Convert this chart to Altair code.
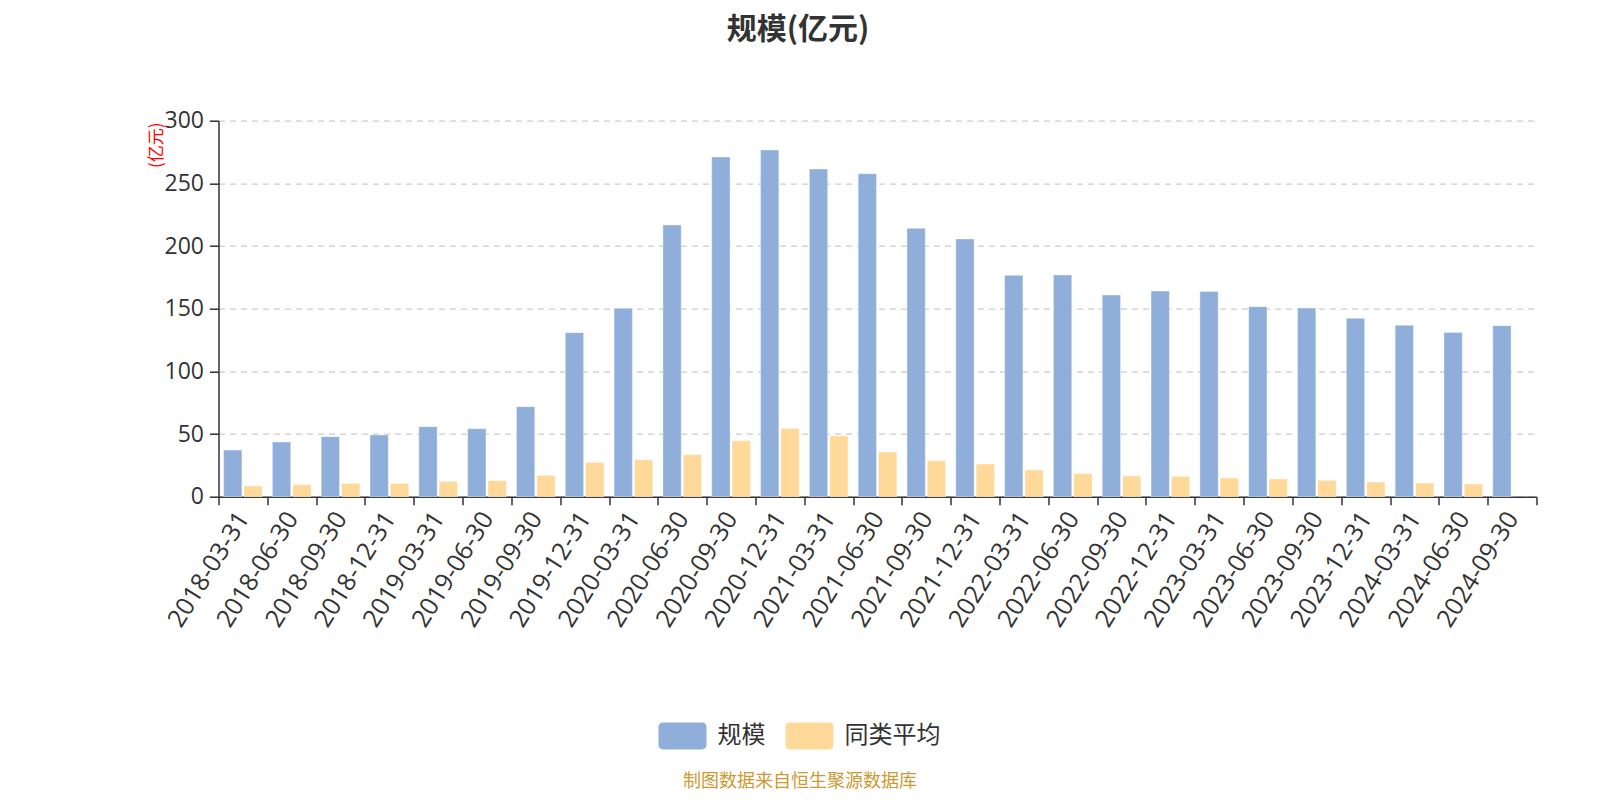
import altair as alt
import pandas as pd

# ---- data ----
dates = [
    "2018-03-31", "2018-06-30", "2018-09-30", "2018-12-31",
    "2019-03-31", "2019-06-30", "2019-09-30", "2019-12-31",
    "2020-03-31", "2020-06-30", "2020-09-30", "2020-12-31",
    "2021-03-31", "2021-06-30", "2021-09-30", "2021-12-31",
    "2022-03-31", "2022-06-30", "2022-09-30", "2022-12-31",
    "2023-03-31", "2023-06-30", "2023-09-30", "2023-12-31",
    "2024-03-31", "2024-06-30", "2024-09-30",
]
scale_vals = [
    37.2, 43.6, 47.9, 49.2, 55.9, 54.3, 71.8, 130.9,
    150.3, 216.8, 271.0, 276.6, 261.4, 257.7, 214.1, 205.6,
    176.6, 176.9, 160.9, 164.1, 163.8, 151.6, 150.5, 142.3,
    136.7, 131.1, 136.4,
]
avg_vals = [
    8.5, 9.6, 10.6, 10.6, 12.2, 12.8, 17.0, 27.4,
    29.5, 33.5, 44.7, 54.5, 48.4, 35.6, 28.7, 26.1,
    21.3, 18.4, 16.5, 16.2, 14.9, 14.1, 13.0, 11.7,
    10.9, 10.1, None,
]
series_names = ["规模", "同类平均"]
series_colors = ["#8FAEDA", "#FFD999"]
y_ticks = [0, 50, 100, 150, 200, 250, 300]
title_text = "规模(亿元)"
y_title = "(亿元)"
source_text = "制图数据来自恒生聚源数据库"

rows = []
for d, a, b in zip(dates, scale_vals, avg_vals):
    rows.append({"date": d, "series": series_names[0], "value": a})
    if b is not None:
        rows.append({"date": d, "series": series_names[1], "value": b})
df = pd.DataFrame(rows)

CJK = "Noto Sans CJK SC"
NUM = "Open Sans"
W, H = 1318, 376
OX, OY = 218.5, 120.7  # plot origin on the page
CANVAS_W, CANVAS_H = 1584, 784

legend_path = ("M-0.8,-0.56 L0.8,-0.56 Q1,-0.56 1,-0.36 L1,0.36 Q1,0.56 0.8,0.56 "
               "L-0.8,0.56 Q-1,0.56 -1,0.36 L-1,-0.36 Q-1,-0.56 -0.8,-0.56 Z")

bars = alt.Chart(df).mark_bar(stroke="#ffffff", strokeWidth=0.6, strokeOpacity=0.6).encode(
    x=alt.X(
        "date:N", sort=dates,
        scale=alt.Scale(paddingInner=0, paddingOuter=0),
        axis=alt.Axis(
            title=None, labelAngle=-58, labelAlign="right", labelBaseline="middle",
            labelFont=NUM, labelFontSize=25, labelColor="#333333", labelPadding=9,
            tickBand="extent", ticks=True, tickSize=8, tickColor="#333333", tickWidth=1.5,
            domainColor="#333333", domainWidth=1.5, grid=False, labelOverlap=False,
        ),
    ),
    xOffset=alt.XOffset(
        "series:N", sort=series_names,
        scale=alt.Scale(paddingInner=0.1, paddingOuter=0.25),
    ),
    y=alt.Y(
        "value:Q",
        scale=alt.Scale(domain=[0, 300], nice=False),
        axis=alt.Axis(
            values=y_ticks, title=y_title, titleColor="red", titleFont=CJK,
            titleFontSize=17, titleFontWeight="normal", titleAngle=270,
            titleAlign="center", titleBaseline="middle", titleX=-62, titleY=24,
            labelFont=NUM, labelFontSize=23, labelColor="#333333", labelPadding=6,
            tickSize=9, tickColor="#333333", tickWidth=1.5,
            domainColor="#333333", domainWidth=1.5,
            grid=True, gridColor="#cccccc", gridDash=[6, 5], gridWidth=1.3,
        ),
    ),
    color=alt.Color(
        "series:N",
        scale=alt.Scale(domain=series_names, range=series_colors),
        legend=alt.Legend(
            title=None, orient="none", direction="horizontal",
            legendX=440, legendY=591,
            symbolType=legend_path, symbolSize=2304, symbolStrokeWidth=0,
            symbolOpacity=1, labelFont=CJK, labelFontSize=24, labelColor="#333333",
            labelOffset=11, columnPadding=20,
        ),
    ),
)

src_df = pd.DataFrame({"t": [source_text]})
note = alt.Chart(src_df).mark_text(
    font=CJK, fontSize=18, color="#CC9933", align="center", baseline="middle"
).encode(
    text="t:N",
    x=alt.value(800 - OX),
    y=alt.value(782 - OY),
)

chart = alt.layer(bars, note).properties(
    width=W, height=H,
    background="white",
    title=alt.Title(
        title_text, anchor="middle", dx=-79.5, offset=65,
        font=CJK, fontSize=30, fontWeight="bold", color="#333333",
    ),
    autosize=alt.AutoSizeParams(type="none"),
    padding={"left": OX - 8, "top": OY - 8,
             "right": CANVAS_W - (OX - 8) - W, "bottom": CANVAS_H - (OY - 8) - H},
).configure_view(strokeWidth=0, stroke="transparent")

chart.save("out.html", embed_options={"renderer": "svg", "actions": False})
